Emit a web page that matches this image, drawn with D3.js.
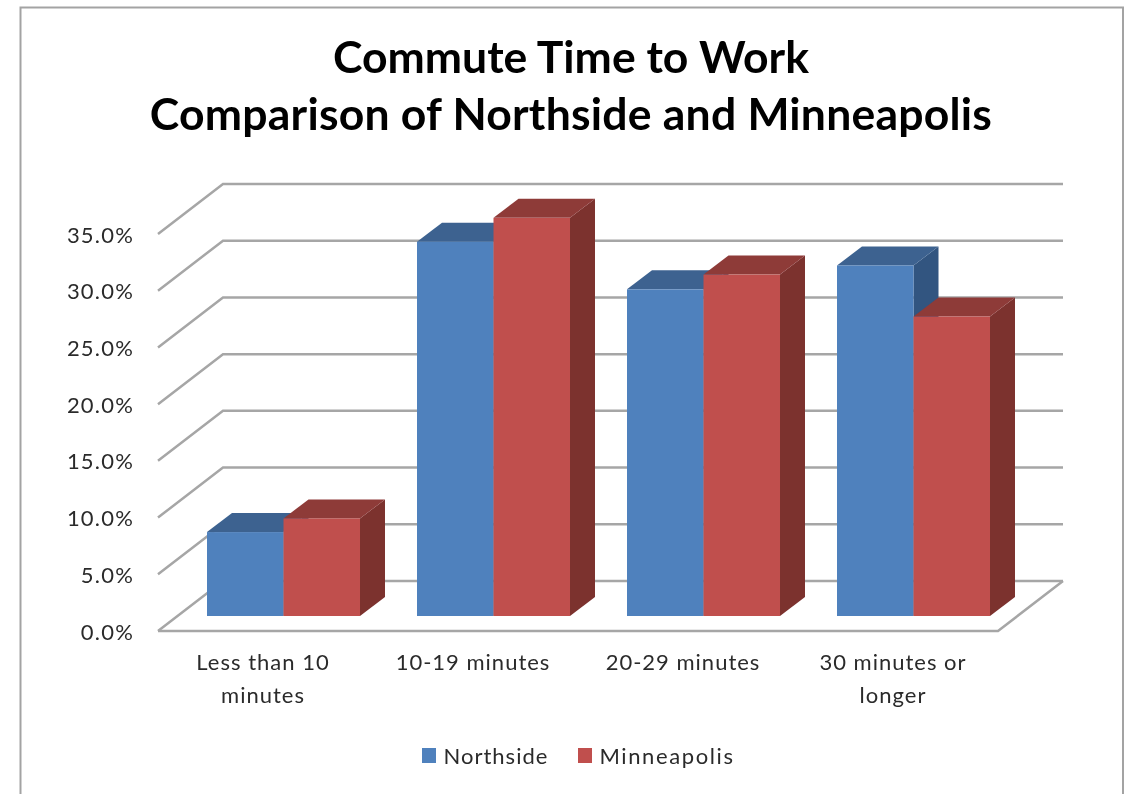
<!DOCTYPE html>
<html>
<head>
<meta charset="utf-8">
<script src="https://d3js.org/d3.v7.min.js"></script>
<style>
  html, body { margin: 0; padding: 0; background: #fff; }
  svg { display: block; }
  text { font-family: Lato, "Open Sans", sans-serif; }
</style>
</head>
<body>
<script>
const WIDTH = 1124;
const HEIGHT = 794;

const categories = ["Less than 10 minutes", "10-19 minutes", "20-29 minutes", "30 minutes or longer"];
const seriesNames = ["Northside", "Minneapolis"];
const northside = [7.4, 33.0, 28.8, 30.9];
const minneapolis = [8.6, 35.1, 30.1, 26.4];
const yTicks = [0, 5, 10, 15, 20, 25, 30, 35];
const titleLines = ["Commute Time to Work", "Comparison of Northside and Minneapolis"];

const FRONT = { left: 158, right: 998, floor: 631, top: 234 };
const WALL = { dx: 65, dy: -50 };     // floor depth, front edge to back wall
const BAR = { dx: 25, dy: -19, offX: 20.5, offY: -15 };   // bar depth and its inset from the front edge

const seriesColors = [
  { front: "#4f81bd", top: "#3c6290", side: "#325480" },
  { front: "#c0504d", top: "#8e3a38", side: "#7b302e" }
];
const lineColor = "#a6a6a6";

const svg = d3.select("body").append("svg")
  .attr("width", WIDTH)
  .attr("height", HEIGHT);

const defs = svg.append("defs");
defs.append("filter").attr("id", "soft")
  .attr("filterUnits", "userSpaceOnUse")
  .attr("x", 0).attr("y", 0).attr("width", WIDTH).attr("height", HEIGHT)
  .append("feGaussianBlur").attr("stdDeviation", 0.55);

const root = svg.append("g").attr("filter", "url(#soft)");

// frame, cut off at the bottom like the screenshot
root.append("path")
  .attr("d", d3.line()([[20.5, HEIGHT + 5], [20.5, 7.5], [1123, 7.5], [1123, HEIGHT + 5]]))
  .attr("fill", "none")
  .attr("stroke", "#a3a3a3")
  .attr("stroke-width", 2);

const xScale = d3.scaleBand().domain(categories).range([FRONT.left, FRONT.right]);
const yScale = d3.scaleLinear().domain([0, 35]).range([FRONT.floor, FRONT.top]);
// bar width comes from the inner scale, each group is 153px wide in its 210px band
const innerScale = d3.scaleBand().domain(seriesNames).range([0, 153]);
const groupInset = (xScale.bandwidth() - 153) / 2;

// walls and floor
const gridGroup = root.append("g")
  .attr("fill", "none")
  .attr("stroke", lineColor)
  .attr("stroke-width", 2.5);

yTicks.forEach(t => {
  const y = yScale(t);
  gridGroup.append("path")
    .attr("d", d3.line()([
      [FRONT.left, y],
      [FRONT.left + WALL.dx, y + WALL.dy],
      [FRONT.right + WALL.dx, y + WALL.dy]
    ]));
});

gridGroup.append("path")
  .attr("d", d3.line()([
    [FRONT.left, FRONT.floor],
    [FRONT.right, FRONT.floor],
    [FRONT.right + WALL.dx, FRONT.floor + WALL.dy]
  ]));

// y axis labels
const yAxis = d3.axisLeft(yScale)
  .tickValues(yTicks)
  .tickSize(0)
  .tickPadding(0)
  .tickFormat(d => d.toFixed(1) + "%");

const yAxisGroup = root.append("g")
  .attr("transform", "translate(134,1)")
  .call(yAxis);
yAxisGroup.select(".domain").remove();
yAxisGroup.selectAll("text")
  .style("font-family", "Lato, sans-serif")
  .style("font-size", "22px")
  .style("letter-spacing", "1.2px")
  .attr("fill", "#2b2b2b");

// bars, left to right so the red front covers the blue side
const allValues = [northside, minneapolis];
const barGroup = root.append("g");

categories.forEach((cat, i) => {
  seriesNames.forEach((name, s) => {
    const colors = seriesColors[s];
    const x0 = xScale(cat) + groupInset + innerScale(name) + BAR.offX;
    const x1 = x0 + innerScale.bandwidth();
    const base = FRONT.floor + BAR.offY;
    const yTop = base - (FRONT.floor - yScale(allValues[s][i]));
    const poly = pts => d3.line()(pts) + "Z";

    barGroup.append("path")
      .attr("d", poly([[x1, yTop], [x1 + BAR.dx, yTop + BAR.dy], [x1 + BAR.dx, base + BAR.dy], [x1, base]]))
      .attr("fill", colors.side);
    barGroup.append("path")
      .attr("d", poly([[x0, yTop], [x0 + BAR.dx, yTop + BAR.dy], [x1 + BAR.dx, yTop + BAR.dy], [x1, yTop]]))
      .attr("fill", colors.top);
    barGroup.append("rect")
      .attr("x", x0)
      .attr("y", yTop)
      .attr("width", x1 - x0)
      .attr("height", base - yTop)
      .attr("fill", colors.front);
  });
});

// category labels
wrapLabels = (selection, width) => {
  selection.each(function () {
    const label = d3.select(this);
    const words = label.text().split(" ");
    const dy = label.attr("dy");
    label.text(null).attr("dy", null);
    let lineNo = 0;
    let current = [];
    let tspan = label.append("tspan").attr("x", 0).attr("y", 0).attr("dy", dy);
    words.forEach(w => {
      current.push(w);
      tspan.text(current.join(" "));
      if (tspan.node().getComputedTextLength() > width && current.length > 1) {
        current.pop();
        tspan.text(current.join(" "));
        current = [w];
        lineNo++;
        tspan = label.append("tspan").attr("x", 0).attr("y", lineNo * 33).attr("dy", dy).text(w);
      }
    });
  });
}

const xAxisGroup = root.append("g")
  .attr("transform", "translate(0,654)")
  .call(d3.axisBottom(xScale).tickSize(0).tickPadding(0));
xAxisGroup.select(".domain").remove();
xAxisGroup.selectAll("text")
  .style("font-family", "Lato, sans-serif")
  .style("font-size", "22px")
  .style("letter-spacing", "1px")
  .attr("fill", "#2b2b2b")
  .call(wrapLabels, 165);

// title
const titleSpacing = [0, 0.22];
root.append("g").selectAll("text")
  .data(titleLines)
  .join("text")
  .attr("x", 571)
  .attr("y", (d, i) => 73 + i * 57)
  .attr("text-anchor", "middle")
  .attr("font-weight", 700)
  .attr("font-size", 44.5)
  .attr("letter-spacing", (d, i) => titleSpacing[i])
  .attr("fill", "#000")
  .text(d => d);

// legend
const legendX = [422, 578];
const legendSpacing = [1, 1.6];
const legend = root.append("g").selectAll("g")
  .data(seriesNames)
  .join("g")
  .attr("transform", (d, i) => "translate(" + legendX[i] + ",748)");
legend.append("rect")
  .attr("width", 14)
  .attr("height", 15)
  .attr("fill", (d, i) => seriesColors[i].front);
legend.append("text")
  .attr("x", 21.5)
  .attr("y", 16)
  .attr("font-size", 22)
  .attr("letter-spacing", (d, i) => legendSpacing[i])
  .attr("fill", "#2b2b2b")
  .text(d => d);
</script>
</body>
</html>
